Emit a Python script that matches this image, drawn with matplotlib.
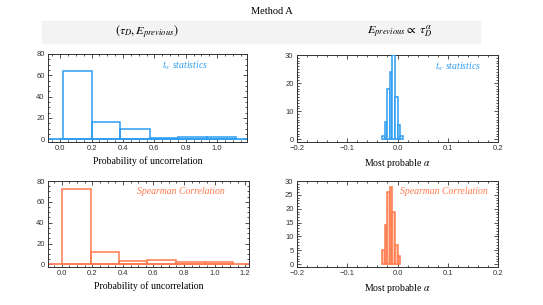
import numpy as np
import matplotlib
matplotlib.use('Agg')
import matplotlib.pyplot as plt
from matplotlib.ticker import MultipleLocator

# values
pEdgesTw = [0.015, 0.2, 0.383, 0.57, 0.753, 0.935, 1.118]
pCountsTw = [64, 16, 10, 1, 2, 2]
pEdgesSp = [0.0, 0.19, 0.375, 0.56, 0.75, 0.935, 1.12]
pCountsSp = [72, 12, 3, 4, 2, 2]

alphaEdgesTw = [-0.03, -0.025, -0.02, -0.015, -0.01, -0.005, 0.0, 0.005, 0.01]
alphaCountsTw = [1, 6, 18, 24, 30, 15, 5, 1]
alphaEdgesSp = [-0.03, -0.025, -0.02, -0.015, -0.01, -0.005, 0.0, 0.005]
alphaCountsSp = [5, 14, 26, 28, 19, 7, 3]

blue = '#2b9cf2'
orange = '#ff7a4d'
salmon = '#ffc6ad'

plt.rcParams['mathtext.fontset'] = 'stix'
serif = 'Liberation Serif'
sans = 'Liberation Sans'

fig = plt.figure(figsize=(5.43, 3.05), dpi=100)

fig.text(0.5, 1 - 11 / 305, 'Method A', ha='center', va='center', family=serif, fontsize=7.5)
band = plt.Rectangle((42 / 543, 1 - 43 / 305), 438 / 543, 22 / 305,
                     transform=fig.transFigure, color='#f3f3f3', zorder=0)
fig.patches.append(band)
fig.text(147 / 543, 1 - 32 / 305, r'$(\tau_D, E_{previous})$', ha='center', va='center', fontsize=8.8)
fig.text(400 / 543, 1 - 32 / 305, r'$E_{previous} \propto\ \tau_D^{\alpha}$', ha='center', va='center', fontsize=8.8)


def makeAxes(x0, y0, x1, y1):
    return fig.add_axes([x0 / 543, 1 - y1 / 305, (x1 - x0) / 543, (y1 - y0) / 305])


def styleAxes(ax, xMajor, xMinor, yMajor, yMinor):
    ax.xaxis.set_major_locator(MultipleLocator(xMajor))
    ax.xaxis.set_minor_locator(MultipleLocator(xMinor))
    ax.yaxis.set_major_locator(MultipleLocator(yMajor))
    ax.yaxis.set_minor_locator(MultipleLocator(yMinor))
    ax.tick_params(which='both', direction='in', top=True, right=True, width=0.6, colors='#333333')
    ax.tick_params(which='major', length=3.0, labelsize=5.5, pad=2.5)
    ax.tick_params(which='minor', length=1.5)
    for lab in ax.get_xticklabels() + ax.get_yticklabels():
        lab.set_family(sans)
    for sp in ax.spines.values():
        sp.set_linewidth(0.7)
        sp.set_color('#333333')


def drawHist(ax, edges, counts, color, fill, xlim, baseline):
    edges = np.array(edges)
    if baseline:
        ax.plot(xlim, [0, 0], color=color, lw=1.2, zorder=2)
    ax.bar(edges[:-1], counts, width=np.diff(edges), align='edge',
           facecolor=fill if fill else 'none', edgecolor=color, linewidth=1.1, zorder=3)
    ax.set_xlim(xlim)


# top left
ax1 = makeAxes(48, 54, 247, 142)
drawHist(ax1, pEdgesTw, pCountsTw, blue, None, (-0.078, 1.19), True)
ax1.set_ylim(-2.5, 80)
styleAxes(ax1, 0.2, 0.05, 20, 5)
ax1.set_xlabel('Probability of uncorrelation', family=serif, fontsize=7, labelpad=3)
ax1.text(0.69, 0.87, r'$t_w$ statistics', transform=ax1.transAxes, ha='center', va='center',
         color=blue, style='italic', family=serif, fontsize=7)

# top right
ax2 = makeAxes(297, 55, 498, 142)
drawHist(ax2, alphaEdgesTw, alphaCountsTw, blue, 'white', (-0.2, 0.2), False)
ax2.set_ylim(-1, 30)
styleAxes(ax2, 0.1, 0.02, 10, 1)
ax2.set_xlabel(r'Most probable $\alpha$', family=serif, fontsize=7, labelpad=3)
ax2.text(0.80, 0.87, r'$t_w$ statistics', transform=ax2.transAxes, ha='center', va='center',
         color=blue, style='italic', family=serif, fontsize=7)

# bottom left
ax3 = makeAxes(48, 181, 249, 267)
drawHist(ax3, pEdgesSp, pCountsSp, orange, None, (-0.09, 1.225), True)
ax3.set_ylim(-2.5, 80)
styleAxes(ax3, 0.2, 0.05, 20, 5)
ax3.set_xlabel('Probability of uncorrelation', family=serif, fontsize=7, labelpad=3)
ax3.text(0.66, 0.875, 'Spearman Correlation', transform=ax3.transAxes, ha='center', va='center',
         color=orange, style='italic', family=serif, fontsize=7)

# bottom right
ax4 = makeAxes(297, 181, 498, 267)
drawHist(ax4, alphaEdgesSp, alphaCountsSp, orange, salmon, (-0.2, 0.2), False)
ax4.set_ylim(-1, 30)
styleAxes(ax4, 0.1, 0.02, 5, 1)
ax4.set_xlabel(r'Most probable $\alpha$', family=serif, fontsize=7, labelpad=3)
ax4.text(0.73, 0.875, 'Spearman Correlation', transform=ax4.transAxes, ha='center', va='center',
         color=orange, style='italic', family=serif, fontsize=7)

fig.savefig('out.png', dpi=100)
